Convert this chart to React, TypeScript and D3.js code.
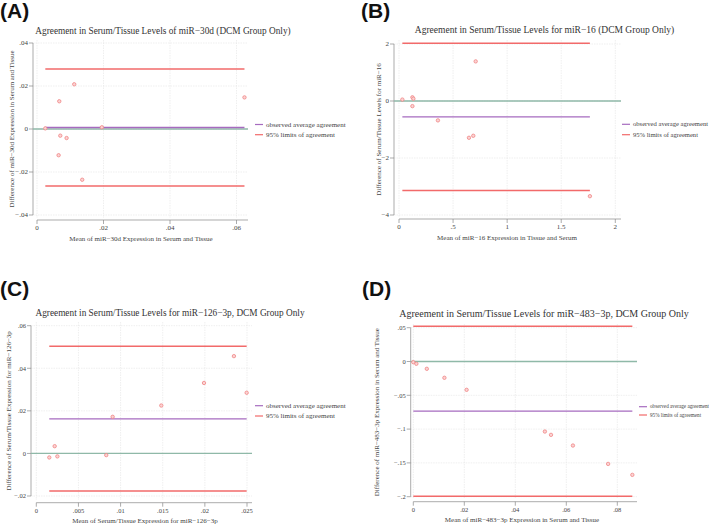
import React from "react";
import * as d3 from "d3";

// ---------- DATA ----------
// Panel A: miR-30d
const aMeanX = [0.0025, 0.0067, 0.0112, 0.0624, 0.0195, 0.007, 0.0089, 0.0065, 0.0136];
const aDiffY = [0.0003, 0.0129, 0.0208, 0.0147, 0.0008, -0.0031, -0.0042, -0.0122, -0.0236];
const aAvg = 0.0007;
const aLimits = [-0.0265, 0.0279];
const aXTicks = [0, 0.02, 0.04, 0.06];
const aXLabels = ["0", ".02", ".04", ".06"];
const aYTicks = [-0.04, -0.02, 0, 0.02, 0.04];
const aYLabels = ["\u2212.04", "\u2212.02", "0", ".02", ".04"];

// Panel B: miR-16
const bMeanX = [0.031, 0.124, 0.133, 0.124, 0.709, 0.36, 0.647, 0.687, 1.765];
const bDiffY = [0.05, 0.13, 0.08, -0.18, 1.39, -0.68, -1.29, -1.22, -3.34];
const bAvg = -0.555;
const bLimits = [-3.14, 2.03];
const bXTicks = [0, 0.5, 1, 1.5, 2];
const bXLabels = ["0", ".5", "1", "1.5", "2"];
const bYTicks = [-4, -2, 0, 2];
const bYLabels = ["\u22124", "\u22122", "0", "2"];

// Panel C: miR-126-3p
const cMeanX = [0.00154, 0.0025, 0.00218, 0.0083, 0.00906, 0.01483, 0.0199, 0.02345, 0.02496];
const cDiffY = [-0.0019, -0.0014, 0.0034, -0.0008, 0.0172, 0.0225, 0.0331, 0.0457, 0.0285];
const cAvg = 0.01625;
const cLimits = [-0.0177, 0.0504];
const cXTicks = [0, 0.005, 0.01, 0.015, 0.02, 0.025];
const cXLabels = ["0", ".005", ".01", ".015", ".02", ".025"];
const cYTicks = [-0.02, 0, 0.02, 0.04, 0.06];
const cYLabels = ["\u2212.02", "0", ".02", ".04", ".06"];

// Panel D: miR-483-3p
const dMeanX = [0.0, 0.0012, 0.0053, 0.0122, 0.0209, 0.0516, 0.054, 0.0626, 0.0764, 0.0859];
const dDiffY = [-0.001, -0.0034, -0.0108, -0.0241, -0.0419, -0.1036, -0.1085, -0.1243, -0.1515, -0.1677];
const dAvg = -0.0735;
const dLimits = [-0.1995, 0.0522];
const dXTicks = [0, 0.02, 0.04, 0.06, 0.08];
const dXLabels = ["0", ".02", ".04", ".06", ".08"];
const dYTicks = [-0.2, -0.15, -0.1, -0.05, 0, 0.05];
const dYLabels = ["\u2212.2", "\u2212.15", "\u2212.1", "\u2212.05", "0", ".05"];

const legendLabels = ["observed average agreement", "95% limits of agreement"];

const titles = [
  "Agreement in Serum/Tissue Levels of miR\u221230d (DCM Group Only)",
  "Agreement in Serum/Tissue Levels for miR\u221216 (DCM Group Only)",
  "Agreement in Serum/Tissue Levels for miR\u2212126\u22123p, DCM Group Only",
  "Agreement in Serum/Tissue Levels for miR\u2212483\u22123p, DCM Group Only",
];
const xTitles = [
  "Mean of miR\u221230d Expression in Serum and Tissue",
  "Mean of miR\u221216 Expression in Tissue and Serum",
  "Mean of Serum/Tissue Expression for miR\u2212126\u22123p",
  "Mean of miR\u2212483\u22123p Expression in Serum and Tissue",
];
const yTitles = [
  "Difference of miR\u221230d Expression in Serum and Tissue",
  "Difference of Serum/Tissue Levels for miR\u221216",
  "Difference of Serum/Tissue Expression for miR\u2212126\u22123p",
  "Difference of miR\u2212483\u22123p Expression in Serum and Tissue",
];

// ---------- STYLE ----------
const RED = "#f26a6a";
const PURPLE = "#a66bbf";
const GREEN = "#8fb9a8";
const SERIF = "'Liberation Serif', 'Times New Roman', Times, serif";
const SANS = "'Liberation Sans', Arial, sans-serif";

type PanelProps = {
  letter: string;
  letterX: number;
  letterY: number;
  title: string;
  titleX: number;
  titleY: number;
  titleSize: number;
  xLabel: string;
  yLabel: string;
  xs: number[];
  ys: number[];
  avg: number;
  limits: number[];
  xTicks: number[];
  xLabels: string[];
  yTicks: number[];
  yLabels: string[];
  xDomain: [number, number];
  xRange: [number, number];
  yDomain: [number, number];
  yRange: [number, number];
  yAxisX: number;
  xAxisY: number;
  plotRight: number;
  plotTop: number;
  plotBottom: number;
  xTitleX: number;
  xTitleY: number;
  yTitleX: number;
  legendX: number;
  legendY: number[];
  legendSize: number;
  tickSize: number;
  axisTitleSize: number;
};

function Panel(p: PanelProps) {
  const x = d3.scaleLinear().domain(p.xDomain).range(p.xRange);
  const y = d3.scaleLinear().domain(p.yDomain).range(p.yRange);
  const xMin = d3.min(p.xs) as number;
  const xMax = d3.max(p.xs) as number;
  const plotLeft = p.xRange[0];
  const yMid = (p.yRange[0] + p.yRange[1]) / 2;
  const hline = d3.line<[number, number]>().x((d) => x(d[0])).y((d) => y(d[1]));
  return (
    <g>
      <text x={p.letterX} y={p.letterY} fontFamily={SANS} fontWeight="bold" fontSize={21} fill="#111">
        {p.letter}
      </text>
      <text x={p.titleX} y={p.titleY} textAnchor="middle" fontFamily={SERIF} fontSize={p.titleSize} fill="#333">
        {p.title}
      </text>
      {/* grid */}
      {p.xTicks.map((t, i) => (
        <line key={"gx" + i} x1={x(t)} x2={x(t)} y1={p.plotTop} y2={p.plotBottom} stroke="#e4e4e4" strokeWidth={0.6} strokeDasharray="1.5 1" />
      ))}
      {p.yTicks.map((t, i) => (
        <line key={"gy" + i} x1={p.yAxisX} x2={p.plotRight} y1={y(t)} y2={y(t)} stroke="#e4e4e4" strokeWidth={0.6} strokeDasharray="1.5 1" />
      ))}
      {/* axes */}
      <line x1={p.yAxisX} x2={p.yAxisX} y1={y(p.yDomain[1])} y2={y(p.yDomain[0])} stroke="#888" strokeWidth={0.7} />
      {p.yTicks.map((t, i) => (
        <g key={"ty" + i}>
          <line x1={p.yAxisX - 4} x2={p.yAxisX} y1={y(t)} y2={y(t)} stroke="#888" strokeWidth={0.7} />
          <text x={p.yAxisX - 5} y={y(t) + 2.3} textAnchor="end" fontFamily={SERIF} fontSize={p.tickSize} fill="#444">
            {p.yLabels[i]}
          </text>
        </g>
      ))}
      <line x1={plotLeft} x2={p.plotRight} y1={p.xAxisY} y2={p.xAxisY} stroke="#888" strokeWidth={0.7} />
      {p.xTicks.map((t, i) => (
        <g key={"tx" + i}>
          <line x1={x(t)} x2={x(t)} y1={p.xAxisY} y2={p.xAxisY + 4} stroke="#888" strokeWidth={0.7} />
          <text x={x(t)} y={p.xAxisY + 10} textAnchor="middle" fontFamily={SERIF} fontSize={p.tickSize} fill="#444">
            {p.xLabels[i]}
          </text>
        </g>
      ))}
      {/* axis titles */}
      <text x={p.xTitleX} y={p.xTitleY} textAnchor="middle" fontFamily={SERIF} fontSize={p.axisTitleSize} fill="#444">
        {p.xLabel}
      </text>
      <text
        transform={`translate(${p.yTitleX},${yMid}) rotate(-90)`}
        textAnchor="middle"
        fontFamily={SERIF}
        fontSize={p.axisTitleSize}
        fill="#444"
      >
        {p.yLabel}
      </text>
      {/* zero line */}
      <line x1={p.yAxisX} x2={p.plotRight} y1={y(0)} y2={y(0)} stroke={GREEN} strokeWidth={1.3} />
      {/* limits */}
      {p.limits.map((l, i) => (
        <path key={"lim" + i} d={hline([[xMin, l], [xMax, l]]) as string} stroke={RED} strokeWidth={1.5} fill="none" />
      ))}
      <path d={hline([[xMin, p.avg], [xMax, p.avg]]) as string} stroke={PURPLE} strokeWidth={1.3} fill="none" />
      {/* points */}
      {p.xs.map((v, i) => (
        <circle key={"pt" + i} cx={x(v)} cy={y(p.ys[i])} r={1.7} fill="#fbd3d3" stroke="#f08585" strokeWidth={0.8} />
      ))}
      {/* legend */}
      {legendLabels.map((lab, i) => (
        <g key={"lg" + i}>
          <line x1={p.legendX} x2={p.legendX + 8} y1={p.legendY[i]} y2={p.legendY[i]} stroke={i === 0 ? PURPLE : RED} strokeWidth={1.2} />
          <text x={p.legendX + 11} y={p.legendY[i] + p.legendSize * 0.33} fontFamily={SERIF} fontSize={p.legendSize} fill="#444">
            {lab}
          </text>
        </g>
      ))}
    </g>
  );
}

export default function App() {
  return (
    <svg
      width={709}
      height={526}
      viewBox="0 0 709 526"
      style={{ position: "absolute", left: 0, top: 0, background: "#fff" }}
    >
      <rect width={709} height={526} fill="#fff" />
      <Panel
        letter="(A)"
        letterX={0}
        letterY={18}
        title={titles[0]}
        titleX={163}
        titleY={34}
        titleSize={9.3}
        xLabel={xTitles[0]}
        yLabel={yTitles[0]}
        xs={aMeanX}
        ys={aDiffY}
        avg={aAvg}
        limits={aLimits}
        xTicks={aXTicks}
        xLabels={aXLabels}
        yTicks={aYTicks}
        yLabels={aYLabels}
        xDomain={[0, 0.06]}
        xRange={[37, 236.5]}
        yDomain={[-0.04, 0.04]}
        yRange={[215, 43]}
        yAxisX={33}
        xAxisY={220}
        plotRight={248}
        plotTop={40}
        plotBottom={218}
        xTitleX={141}
        xTitleY={241}
        yTitleX={14}
        legendX={255}
        legendY={[124.5, 134.7]}
        legendSize={7}
        tickSize={7}
        axisTitleSize={7}
      />
      <Panel
        letter="(B)"
        letterX={361}
        letterY={18}
        title={titles[1]}
        titleX={544.5}
        titleY={33}
        titleSize={9.5}
        xLabel={xTitles[1]}
        yLabel={yTitles[1]}
        xs={bMeanX}
        ys={bDiffY}
        avg={bAvg}
        limits={bLimits}
        xTicks={bXTicks}
        xLabels={bXLabels}
        yTicks={bYTicks}
        yLabels={bYLabels}
        xDomain={[0, 2]}
        xRange={[399, 615.3]}
        yDomain={[-4, 2]}
        yRange={[215, 44]}
        yAxisX={394}
        xAxisY={219}
        plotRight={621}
        plotTop={40}
        plotBottom={217}
        xTitleX={507}
        xTitleY={240}
        yTitleX={381}
        legendX={622}
        legendY={[124.3, 134.7]}
        legendSize={6.6}
        tickSize={7}
        axisTitleSize={7}
      />
      <Panel
        letter="(C)"
        letterX={0}
        letterY={296}
        title={titles[2]}
        titleX={170}
        titleY={316}
        titleSize={9.3}
        xLabel={xTitles[2]}
        yLabel={yTitles[2]}
        xs={cMeanX}
        ys={cDiffY}
        avg={cAvg}
        limits={cLimits}
        xTicks={cXTicks}
        xLabels={cXLabels}
        yTicks={cYTicks}
        yLabels={cYLabels}
        xDomain={[0, 0.025]}
        xRange={[36.3, 247]}
        yDomain={[-0.02, 0.06]}
        yRange={[496, 325.7]}
        yAxisX={31}
        xAxisY={502.7}
        plotRight={252}
        plotTop={322}
        plotBottom={500}
        xTitleX={145}
        xTitleY={523}
        yTitleX={11}
        legendX={255}
        legendY={[405.7, 416]}
        legendSize={7}
        tickSize={6.5}
        axisTitleSize={7}
      />
      <Panel
        letter="(D)"
        letterX={362}
        letterY={296}
        title={titles[3]}
        titleX={544}
        titleY={317}
        titleSize={10}
        xLabel={xTitles[3]}
        yLabel={yTitles[3]}
        xs={dMeanX}
        ys={dDiffY}
        avg={dAvg}
        limits={dLimits}
        xTicks={dXTicks}
        xLabels={dXLabels}
        yTicks={dYTicks}
        yLabels={dYLabels}
        xDomain={[0, 0.08]}
        xRange={[413.3, 617.3]}
        yDomain={[-0.2, 0.05]}
        yRange={[496.7, 327.7]}
        yAxisX={410.7}
        xAxisY={501.7}
        plotRight={637}
        plotTop={324}
        plotBottom={499}
        xTitleX={522}
        xTitleY={522}
        yTitleX={379}
        legendX={639}
        legendY={[406.7, 415]}
        legendSize={5.2}
        tickSize={6.5}
        axisTitleSize={7}
      />
    </svg>
  );
}
